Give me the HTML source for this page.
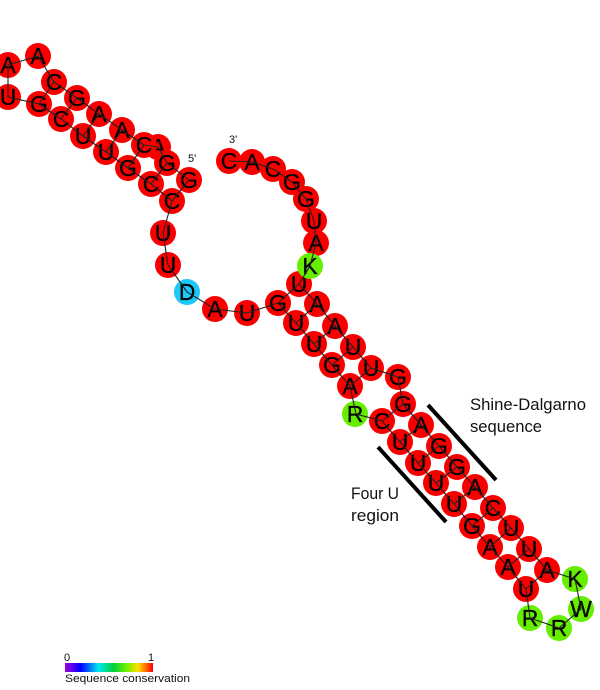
<!DOCTYPE html>
<html><head><meta charset="utf-8"><style>
html,body{margin:0;padding:0;background:#fff;width:600px;height:690px;overflow:hidden}
svg{display:block}
.n text{font:23px "Liberation Sans",sans-serif;fill:#000;stroke:#000;stroke-width:.25;text-anchor:middle}
.r circle{fill:#f80000}.g circle{fill:#66ee00}.b circle{fill:#1cc8fa}
.l{font:16.4px "Liberation Sans",sans-serif;fill:#111}
.s{font:11px "Liberation Sans",sans-serif;fill:#111}
</style></head><body>
<svg width="600" height="690" viewBox="0 0 600 690" xmlns="http://www.w3.org/2000/svg">
<defs><linearGradient id="cg"><stop offset="0" stop-color="#a000e0"/><stop offset=".18" stop-color="#0000ff"/><stop offset=".38" stop-color="#00e8f0"/><stop offset=".55" stop-color="#00d040"/><stop offset=".7" stop-color="#70f000"/><stop offset=".83" stop-color="#ffe000"/><stop offset="1" stop-color="#ff0000"/></linearGradient>
<filter id="bl"><feGaussianBlur stdDeviation="0.3"/></filter></defs>
<g filter="url(#bl)">
<g class="n r">
<g><circle cx="189" cy="180" r="13"/><text x="189" y="188">G</text></g>
<g><circle cx="158" cy="147" r="13"/><text x="158" y="155">A</text></g>
<g><circle cx="144" cy="145" r="13"/><text x="144" y="153">C</text></g>
<g><circle cx="167" cy="163" r="13"/><text x="167" y="171">G</text></g>
<g><circle cx="122" cy="130" r="13"/><text x="122" y="138">A</text></g>
<g><circle cx="99" cy="114" r="13"/><text x="99" y="122">A</text></g>
<g><circle cx="77" cy="98" r="13"/><text x="77" y="106">G</text></g>
<g><circle cx="54" cy="82" r="13"/><text x="54" y="90">C</text></g>
<g><circle cx="38" cy="56" r="13"/><text x="38" y="64">A</text></g>
<g><circle cx="8" cy="65" r="13"/><text x="8" y="73">A</text></g>
<g><circle cx="8" cy="97" r="13"/><text x="8" y="105">U</text></g>
<g><circle cx="39" cy="104" r="13"/><text x="39" y="112">G</text></g>
<g><circle cx="61" cy="119" r="13"/><text x="61" y="127">C</text></g>
<g><circle cx="83" cy="136" r="13"/><text x="83" y="144">U</text></g>
<g><circle cx="106" cy="152" r="13"/><text x="106" y="160">U</text></g>
<g><circle cx="128" cy="168" r="13"/><text x="128" y="176">G</text></g>
<g><circle cx="151" cy="184" r="13"/><text x="151" y="192">C</text></g>
<g><circle cx="172" cy="201" r="13"/><text x="172" y="209">C</text></g>
<g><circle cx="163" cy="233" r="13"/><text x="163" y="241">U</text></g>
<g><circle cx="168" cy="265" r="13"/><text x="168" y="273">U</text></g>
<g><circle cx="215" cy="309" r="13"/><text x="215" y="317">A</text></g>
<g><circle cx="247" cy="313" r="13"/><text x="247" y="321">U</text></g>
<g><circle cx="278" cy="303" r="13"/><text x="278" y="311">G</text></g>
<g><circle cx="296" cy="323" r="13"/><text x="296" y="331">U</text></g>
<g><circle cx="314" cy="344" r="13"/><text x="314" y="352">U</text></g>
<g><circle cx="332" cy="365" r="13"/><text x="332" y="373">G</text></g>
<g><circle cx="350" cy="386" r="13"/><text x="350" y="394">A</text></g>
<g><circle cx="382" cy="421" r="13"/><text x="382" y="429">C</text></g>
<g><circle cx="400" cy="442" r="13"/><text x="400" y="450">U</text></g>
<g><circle cx="418" cy="463" r="13"/><text x="418" y="471">U</text></g>
<g><circle cx="436" cy="483" r="13"/><text x="436" y="491">U</text></g>
<g><circle cx="454" cy="504" r="13"/><text x="454" y="512">U</text></g>
<g><circle cx="472" cy="526" r="13"/><text x="472" y="534">G</text></g>
<g><circle cx="490" cy="547" r="13"/><text x="490" y="555">A</text></g>
<g><circle cx="508" cy="567" r="13"/><text x="508" y="575">A</text></g>
<g><circle cx="526" cy="589" r="13"/><text x="526" y="597">U</text></g>
<g><circle cx="547" cy="570" r="13"/><text x="547" y="578">A</text></g>
<g><circle cx="529" cy="549" r="13"/><text x="529" y="557">U</text></g>
<g><circle cx="511" cy="528" r="13"/><text x="511" y="536">U</text></g>
<g><circle cx="493" cy="508" r="13"/><text x="493" y="516">C</text></g>
<g><circle cx="475" cy="487" r="13"/><text x="475" y="495">A</text></g>
<g><circle cx="457" cy="467" r="13"/><text x="457" y="475">G</text></g>
<g><circle cx="439" cy="446" r="13"/><text x="439" y="454">G</text></g>
<g><circle cx="421" cy="425" r="13"/><text x="421" y="433">A</text></g>
<g><circle cx="403" cy="404" r="13"/><text x="403" y="412">G</text></g>
<g><circle cx="398" cy="377" r="13"/><text x="398" y="385">G</text></g>
<g><circle cx="371" cy="368" r="13"/><text x="371" y="376">U</text></g>
<g><circle cx="353" cy="347" r="13"/><text x="353" y="355">U</text></g>
<g><circle cx="335" cy="326" r="13"/><text x="335" y="334">A</text></g>
<g><circle cx="317" cy="304" r="13"/><text x="317" y="312">A</text></g>
<g><circle cx="299" cy="284" r="13"/><text x="299" y="292">U</text></g>
<g><circle cx="316" cy="243" r="13"/><text x="316" y="251">A</text></g>
<g><circle cx="314" cy="221" r="13"/><text x="314" y="229">U</text></g>
<g><circle cx="306" cy="199" r="13"/><text x="306" y="207">G</text></g>
<g><circle cx="292" cy="182" r="13"/><text x="292" y="190">G</text></g>
<g><circle cx="273" cy="169" r="13"/><text x="273" y="177">C</text></g>
<g><circle cx="252" cy="162" r="13"/><text x="252" y="170">A</text></g>
<g><circle cx="229" cy="161" r="13"/><text x="229" y="169">C</text></g>
</g>
<g class="n g">
<g><circle cx="310" cy="266" r="13"/><text x="310" y="274">K</text></g>
<g><circle cx="355" cy="414" r="13"/><text x="355" y="422">R</text></g>
<g><circle cx="575" cy="579" r="13"/><text x="575" y="587">K</text></g>
<g><circle cx="581" cy="609" r="13"/><text x="581" y="617">W</text></g>
<g><circle cx="559" cy="628" r="13"/><text x="559" y="636">R</text></g>
<g><circle cx="530" cy="618" r="13"/><text x="530" y="626">R</text></g>
</g>
<g class="n b"><circle cx="187" cy="292" r="13"/><text x="187" y="300">D</text></g>
<polyline fill="none" stroke="#222" stroke-width="1.1" points="189,180 167,163 158,147 144,145 122,130 99,114 77,98 54,82 38,56 8,65 8,97 39,104 61,119 83,136 106,152 128,168 151,184 172,201 163,233 168,265 187,292 215,309 247,313 278,303 296,323 314,344 332,365 350,386 356,414 382,421 400,442 418,463 436,483 454,504 472,526 490,547 508,567 526,589 530,618 559,628 581,609 575,579 547,570 529,549 511,528 493,508 475,487 457,467 439,446 421,425 403,404 398,377 371,368 353,347 335,326 317,304 299,284 310,266 316,243 314,221 306,199 292,182 273,169 252,162 229,161"/>
<path fill="none" stroke="#222" stroke-width="1.1" d="M54 82L39 104M77 98L61 119M99 114L83 136M122 130L106 152M144 145L128 168M167 163L151 184M189 180L172 201M278 303L299 284M296 323L317 304M314 344L335 326M332 365L353 347M350 386L371 368M382 421L403 404M400 442L421 425M418 463L439 446M436 483L457 467M454 504L475 487M472 526L493 508M490 547L511 528M508 567L529 549M526 589L547 570"/>
</g>
<g stroke="#000" stroke-width="4"><line x1="428" y1="405" x2="496" y2="480"/><line x1="378" y1="447" x2="446" y2="522"/></g>
<text class="l" x="470" y="410" textLength="116" lengthAdjust="spacingAndGlyphs">Shine-Dalgarno</text>
<text class="l" x="470" y="432" textLength="72" lengthAdjust="spacingAndGlyphs">sequence</text>
<text class="l" x="351" y="499" textLength="48" lengthAdjust="spacingAndGlyphs">Four U</text>
<text class="l" x="351" y="521" textLength="48" lengthAdjust="spacingAndGlyphs">region</text>
<text class="s" x="229" y="143">3'</text>
<text class="s" x="188" y="162">5'</text>
<rect x="65" y="663" width="88" height="9" fill="url(#cg)"/>
<text class="s" x="64" y="661">0</text>
<text class="s" x="148" y="661">1</text>
<text class="s" x="65" y="682" textLength="125" lengthAdjust="spacingAndGlyphs">Sequence conservation</text>
</svg>
</body></html>
